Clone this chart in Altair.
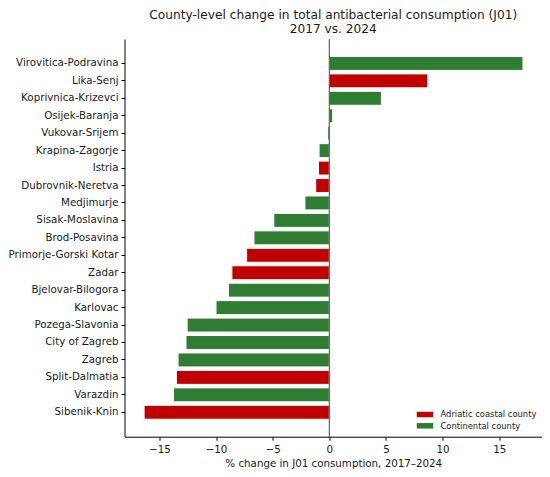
import altair as alt
import pandas as pd

counties = [
    "Virovitica-Podravina", "Lika-Senj", "Koprivnica-Krizevci", "Osijek-Baranja",
    "Vukovar-Srijem", "Krapina-Zagorje", "Istria", "Dubrovnik-Neretva",
    "Medjimurje", "Sisak-Moslavina", "Brod-Posavina", "Primorje-Gorski Kotar",
    "Zadar", "Bjelovar-Bilogora", "Karlovac", "Pozega-Slavonia",
    "City of Zagreb", "Zagreb", "Split-Dalmatia", "Varazdin", "Sibenik-Knin",
]
changes = [
    17.1, 8.7, 4.6, 0.3,
    -0.15, -0.9, -0.95, -1.2,
    -2.15, -4.9, -6.65, -7.3,
    -8.6, -8.9, -10.0, -12.55,
    -12.65, -13.35, -13.5, -13.75, -16.35,
]
COAST = "Adriatic coastal county"
CONT = "Continental county"
regions = [
    CONT, COAST, CONT, CONT,
    CONT, CONT, COAST, COAST,
    CONT, CONT, CONT, COAST,
    COAST, CONT, CONT, CONT,
    CONT, CONT, COAST, CONT, COAST,
]
x_ticks = [-15, -10, -5, 0, 5, 10, 15]
region_order = [COAST, CONT]
region_colors = ["#c00000", "#2e7d32"]

df = pd.DataFrame({"county": counties, "change": changes, "region": regions})
zero_df = pd.DataFrame({"x": [0]})

FONT = "DejaVu Sans"
TXT = "#1a1a1a"

x_scale = alt.Scale(domain=[-18.08, 18.78], nice=False, zero=False)

bars = alt.Chart(df).mark_bar(stroke="white", strokeWidth=1).encode(
    x=alt.X(
        "change:Q",
        scale=x_scale,
        stack=None,
        axis=alt.Axis(
            values=x_ticks,
            title="% change in J01 consumption, 2017–2024",
            grid=False,
            labelExpr="replace(datum.label, '-', '−')",
            tickSize=3.5,
            labelPadding=4.5,
            titlePadding=4,
        ),
    ),
    x2=alt.datum(0),
    y=alt.Y(
        "county:N",
        sort=counties,
        scale=alt.Scale(paddingInner=0.2, paddingOuter=1.0),
        axis=alt.Axis(title=None, tickSize=3.5, labelPadding=3, grid=False),
    ),
    color=alt.Color(
        "region:N",
        scale=alt.Scale(domain=region_order, range=region_colors),
        legend=alt.Legend(
            title=None,
            orient="none",
            legendX=295,
            legendY=370,
            symbolType="M-1.5,-0.5L1.5,-0.5L1.5,0.5L-1.5,0.5Z",
            symbolSize=121,
            symbolStrokeWidth=0,
            labelFontSize=8.4,
            labelFont=FONT,
            labelColor=TXT,
            labelOffset=10,
            padding=0,
            rowPadding=1.3,
        ),
    ),
)

zero = alt.Chart(zero_df).mark_rule(color="#404040", strokeWidth=1).encode(x=alt.X("x:Q", scale=x_scale))

chart = (
    alt.layer(bars, zero)
    .properties(
        width=417.5,
        height=397.7,
        title=alt.Title(
            ["County-level change in total antibacterial consumption (J01)", "2017 vs. 2024"],
            fontSize=12.2,
            font=FONT,
            fontWeight="normal",
            color=TXT,
            anchor="middle",
            frame="group",
            lineHeight=14,
            offset=3,
        ),
        autosize=alt.AutoSizeParams(type="none"),
        padding={"left": 116.5, "top": 31, "right": 0, "bottom": 37},
    )
    .configure_view(stroke=None)
    .configure_axis(
        labelFont=FONT,
        labelFontSize=10.3,
        labelColor=TXT,
        titleFont=FONT,
        titleFontSize=10.3,
        titleFontWeight="normal",
        titleColor=TXT,
        domainColor="#000000",
        domainWidth=1,
        tickColor="#000000",
        tickWidth=1,
    )
)

chart.save("out.html", embed_options={"renderer": "svg", "actions": False})
